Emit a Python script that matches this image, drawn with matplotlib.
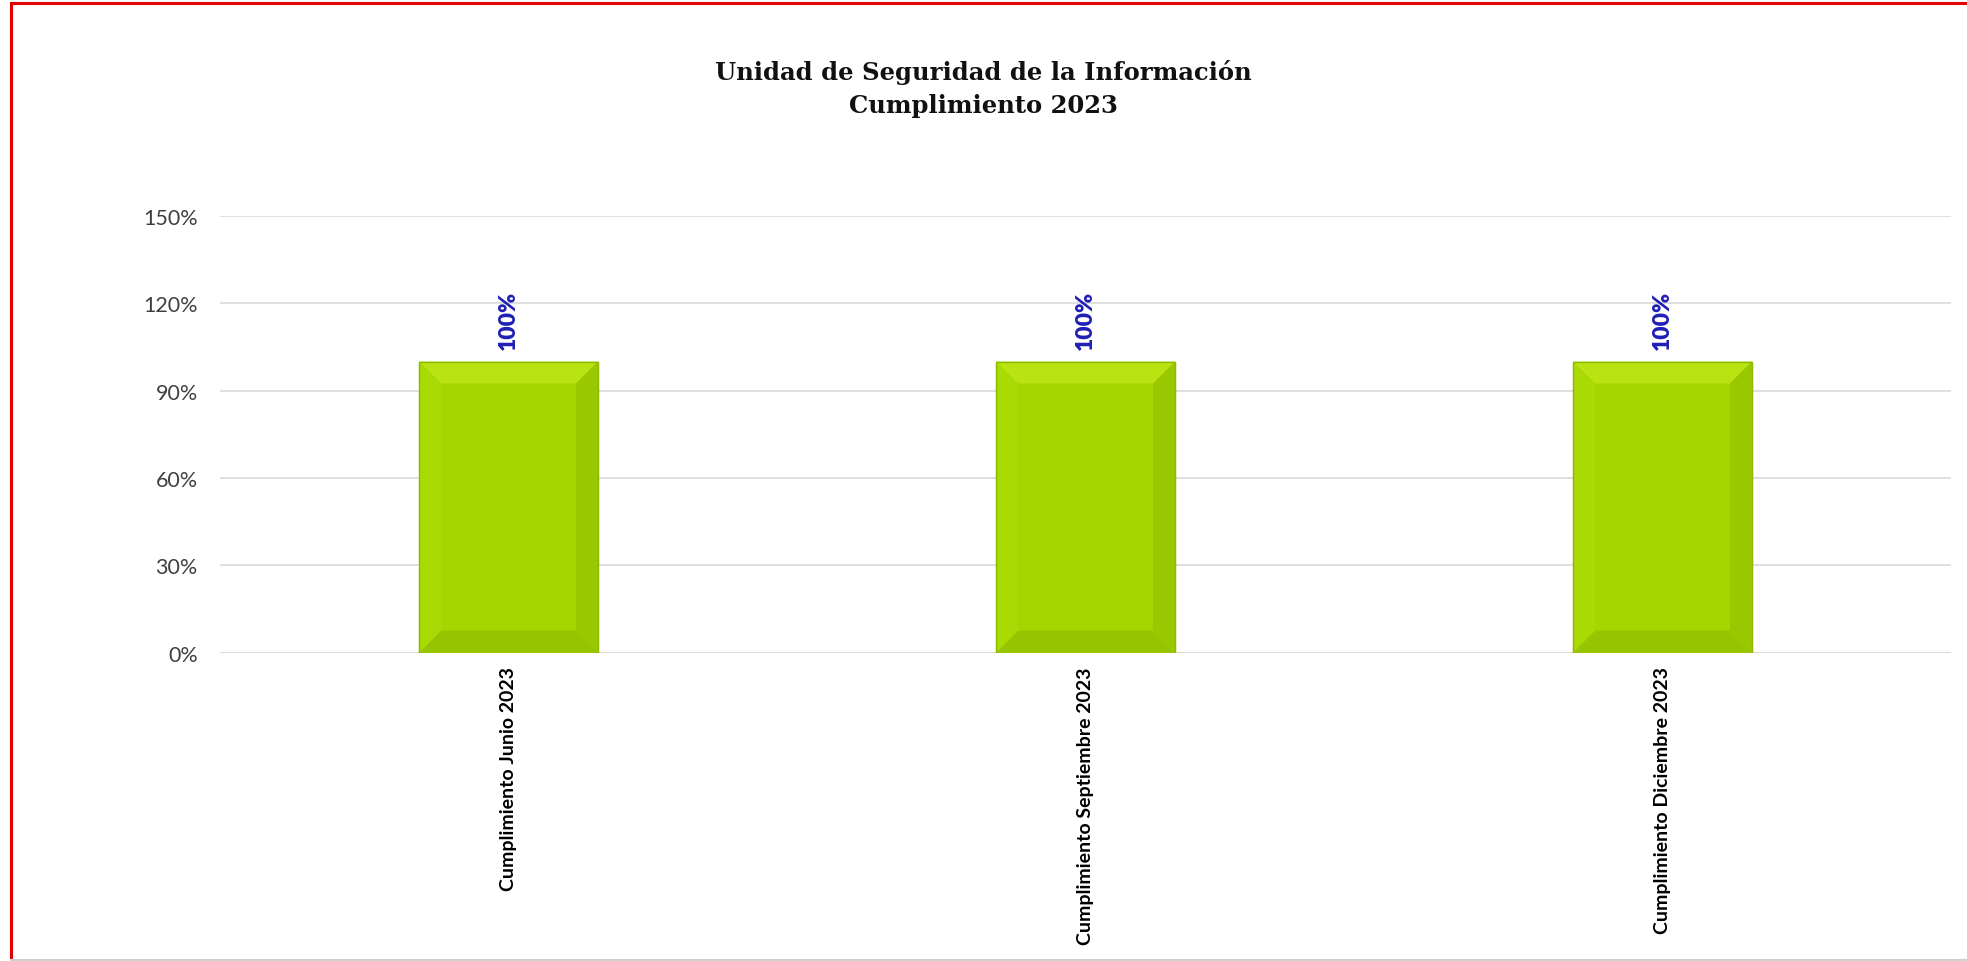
import matplotlib
matplotlib.use("Agg")
import matplotlib.pyplot as plt
from matplotlib.patches import Polygon, Rectangle
import numpy as np

# data
categories = ["Cumplimiento Junio 2023", "Cumplimiento Septiembre 2023", "Cumplimiento Diciembre 2023"]
values = [100, 100, 100]
value_labels = ["100%", "100%", "100%"]
yticks = [0, 30, 60, 90, 120, 150]
title = "Unidad de Seguridad de la Información\nCumplimiento 2023"

fig = plt.figure(figsize=(19.67, 9.62), dpi=100)
ax = fig.add_axes([220 / 1967, 1 - 653.6 / 962, (1951 - 220) / 1967, (653.6 - 217) / 962])

x = np.arange(len(categories))
bars = ax.bar(x, values, width=0.31, color="#a4d600", edgecolor="#8fb800", linewidth=0.8, zorder=3)

ax.set_xlim(-0.5, len(categories) - 0.5)
ax.set_ylim(0, 150)
ax.set_yticks(yticks)
ax.set_yticklabels([f"{t}%" for t in yticks], fontsize=15.5, color="#404040", family="Lato")
ax.tick_params(axis="y", length=0, pad=16)
ax.tick_params(axis="x", length=0, pad=10)
ax.set_xticks(x)
ax.set_xticklabels(categories, rotation=90, fontsize=14, fontweight="bold", family="Lato", va="top")
ax.yaxis.grid(True, color="#d9d9d9", linewidth=1.2, zorder=0)
for s in ["top", "right", "left", "bottom"]:
    ax.spines[s].set_visible(False)
ax.axhline(0, color="#d9d9d9", linewidth=1.2, zorder=1)

# bevel effect on each bar, drawn from the bar geometry
fig.canvas.draw()
inv = ax.transData.inverted()
for b in bars:
    x0, y0 = b.get_x(), b.get_y()
    x1, y1 = x0 + b.get_width(), y0 + b.get_height()
    p0 = ax.transData.transform((x0, y0))
    d = inv.transform(p0 + np.array([22, 22])) - np.array([x0, y0])
    dx, dy = d
    top = [(x0, y1), (x1, y1), (x1 - dx, y1 - dy), (x0 + dx, y1 - dy)]
    bottom = [(x0, y0), (x1, y0), (x1 - dx, y0 + dy), (x0 + dx, y0 + dy)]
    left = [(x0, y0), (x0, y1), (x0 + dx, y1 - dy), (x0 + dx, y0 + dy)]
    right = [(x1, y0), (x1, y1), (x1 - dx, y1 - dy), (x1 - dx, y0 + dy)]
    for poly, c in [(top, "#b9e412"), (bottom, "#96c400"), (left, "#a9da04"), (right, "#99c700")]:
        ax.add_patch(Polygon(poly, closed=True, facecolor=c, edgecolor="none", zorder=4))
    ax.add_patch(Rectangle((x0, y0), x1 - x0, y1 - y0, facecolor="none", edgecolor="#8fb800", linewidth=1, zorder=5))

for xi, v, lab in zip(x, values, value_labels):
    ax.annotate(lab, (xi, v), xytext=(0, 9), textcoords="offset points", rotation=90,
                ha="center", va="bottom", fontsize=16.5, fontweight="heavy", color="#1f1fb4", family="Lato")

fig.text(0.5, 1 - 89 / 962, title, ha="center", va="center", fontsize=17.5, fontweight="bold",
         family="DejaVu Serif", color="#111111", linespacing=1.5)

# outer frame
fig.add_artist(plt.Line2D([11 / 1967, 11 / 1967], [0, 1 - 4 / 962], color="#e00000", linewidth=2.2, transform=fig.transFigure))
fig.add_artist(plt.Line2D([11 / 1967, 1], [1 - 4 / 962, 1 - 4 / 962], color="#e00000", linewidth=2.2, transform=fig.transFigure))
fig.add_artist(plt.Line2D([11 / 1967, 1], [1 / 962, 1 / 962], color="#d0d0d0", linewidth=1.5, transform=fig.transFigure))

fig.savefig("out.png", dpi=100, facecolor="white")
